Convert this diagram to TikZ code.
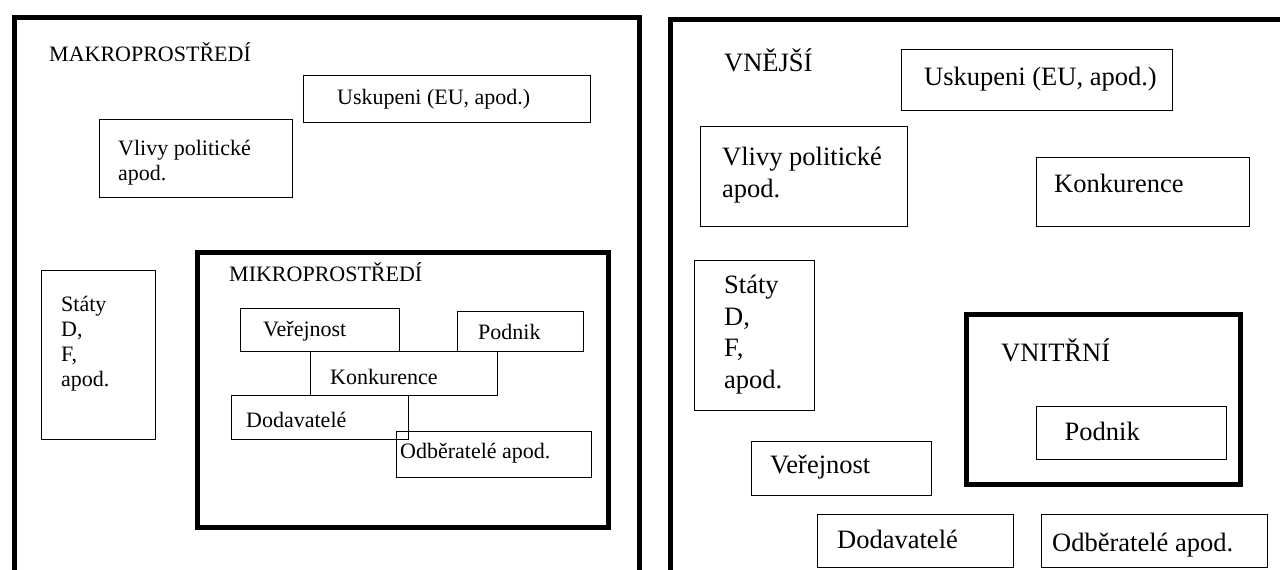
\documentclass[tikz,border=0pt]{standalone}
\usepackage{fontspec}
\IfFontExistsTF{LiberationSerif-Regular.ttf}
  {\setmainfont{LiberationSerif-Regular.ttf}}
  {\setmainfont{Liberation Serif}}
\tikzset{
  thickframe/.style={draw,line width=5pt,anchor=north west,inner sep=0pt},
  thinbox/.style={draw,line width=1.4pt,anchor=north west,inner sep=0pt},
  txtL/.style={anchor=base west,inner sep=0pt,font=\rmfamily\fontsize{22}{25}\selectfont},
  txtR/.style={anchor=base west,inner sep=0pt,font=\rmfamily\fontsize{26.5}{31.5}\selectfont}
}

\begin{document}
\begin{tikzpicture}[x=1pt,y=-1pt]
  \useasboundingbox (0,0) rectangle (1280,570);
  \clip (0,0) rectangle (1280,570);

  % left half: makroprostredi with mikroprostredi inside
  \node[thickframe,minimum width=625.5pt,minimum height=600pt] (makro) at (11.5,14.5) {};
  \node[txtL] (makroTitle) at (49,61.5) {MAKROPROSTŘEDÍ};
  \node[thinbox,minimum width=287pt,minimum height=47pt] (uskupeniL) at (303,75) {};
  \node[txtL] (uskupeniLtxt) at (337,104) {Uskupeni (EU, apod.)};
  \node[thinbox,minimum width=193pt,minimum height=78pt] (vlivyL) at (99,119) {};
  \node[txtL,align=left,anchor=north west] (vlivyLtxt) at (118,140) {Vlivy politické\\apod.};
  \node[thinbox,minimum width=114pt,minimum height=169pt] (statyL) at (41,270) {};
  \node[txtL,align=left,anchor=north west] (statyLtxt) at (61,296) {Státy\\D,\\F,\\apod.};

  \node[thickframe,minimum width=411pt,minimum height=275pt] (mikro) at (194.5,249.5) {};
  \node[txtL] (mikroTitle) at (229,281.7) {MIKROPROSTŘEDÍ};
  \node[thinbox,minimum width=159pt,minimum height=43pt] (verejnostL) at (240,308) {};
  \node[txtL] (verejnostLtxt) at (263,336) {Veřejnost};
  \node[thinbox,minimum width=126pt,minimum height=40pt] (podnikL) at (457,311) {};
  \node[txtL] (podnikLtxt) at (478,339) {Podnik};
  \node[thinbox,minimum width=187pt,minimum height=44pt] (konkurenceL) at (310,351) {};
  \node[txtL] (konkurenceLtxt) at (330,384) {Konkurence};
  \node[thinbox,minimum width=177pt,minimum height=44pt] (dodavateleL) at (231,395) {};
  \node[txtL] (dodavateleLtxt) at (246,427.7) {Dodavatelé};
  \node[thinbox,minimum width=195pt,minimum height=46pt] (odberateleL) at (396,431) {};
  \node[txtL] (odberateleLtxt) at (400,458) {Odběratelé apod.};

  % right half: vnejsi with vnitrni inside
  \node[thickframe,minimum width=650pt,minimum height=600pt] (vnejsi) at (667.5,16.5) {};
  \node[txtR] (vnejsiTitle) at (724,71.7) {VNĚJŠÍ};
  \node[thinbox,minimum width=271pt,minimum height=61pt] (uskupeniR) at (901,49) {};
  \node[txtR] (uskupeniRtxt) at (924,85) {Uskupeni (EU, apod.)};
  \node[thinbox,minimum width=207pt,minimum height=100pt] (vlivyR) at (700,126) {};
  \node[txtR,align=left,anchor=north west] (vlivyRtxt) at (722,147) {Vlivy politické\\apod.};
  \node[thinbox,minimum width=213pt,minimum height=69pt] (konkurenceR) at (1036,157) {};
  \node[txtR] (konkurenceRtxt) at (1054,192.7) {Konkurence};
  \node[thinbox,minimum width=120pt,minimum height=150pt] (statyR) at (694,260) {};
  \node[txtR,align=left,anchor=north west] (statyRtxt) at (724,275) {Státy\\D,\\F,\\apod.};

  \node[thickframe,minimum width=274pt,minimum height=170pt] (vnitrni) at (963.5,311.5) {};
  \node[txtR] (vnitrniTitle) at (1001,361.7) {VNITŘNÍ};
  \node[thinbox,minimum width=190pt,minimum height=53pt] (podnikR) at (1036,406) {};
  \node[txtR] (podnikRtxt) at (1064.5,440.7) {Podnik};
  \node[thinbox,minimum width=180pt,minimum height=54pt] (verejnostR) at (751,441) {};
  \node[txtR] (verejnostRtxt) at (770,473) {Veřejnost};
  \node[thinbox,minimum width=196pt,minimum height=53pt] (dodavateleR) at (817,514) {};
  \node[txtR] (dodavateleRtxt) at (837,548) {Dodavatelé};
  \node[thinbox,minimum width=226pt,minimum height=53pt] (odberateleR) at (1041,514) {};
  \node[txtR] (odberateleRtxt) at (1052,551.7) {Odběratelé apod.};
\end{tikzpicture}
\end{document}
